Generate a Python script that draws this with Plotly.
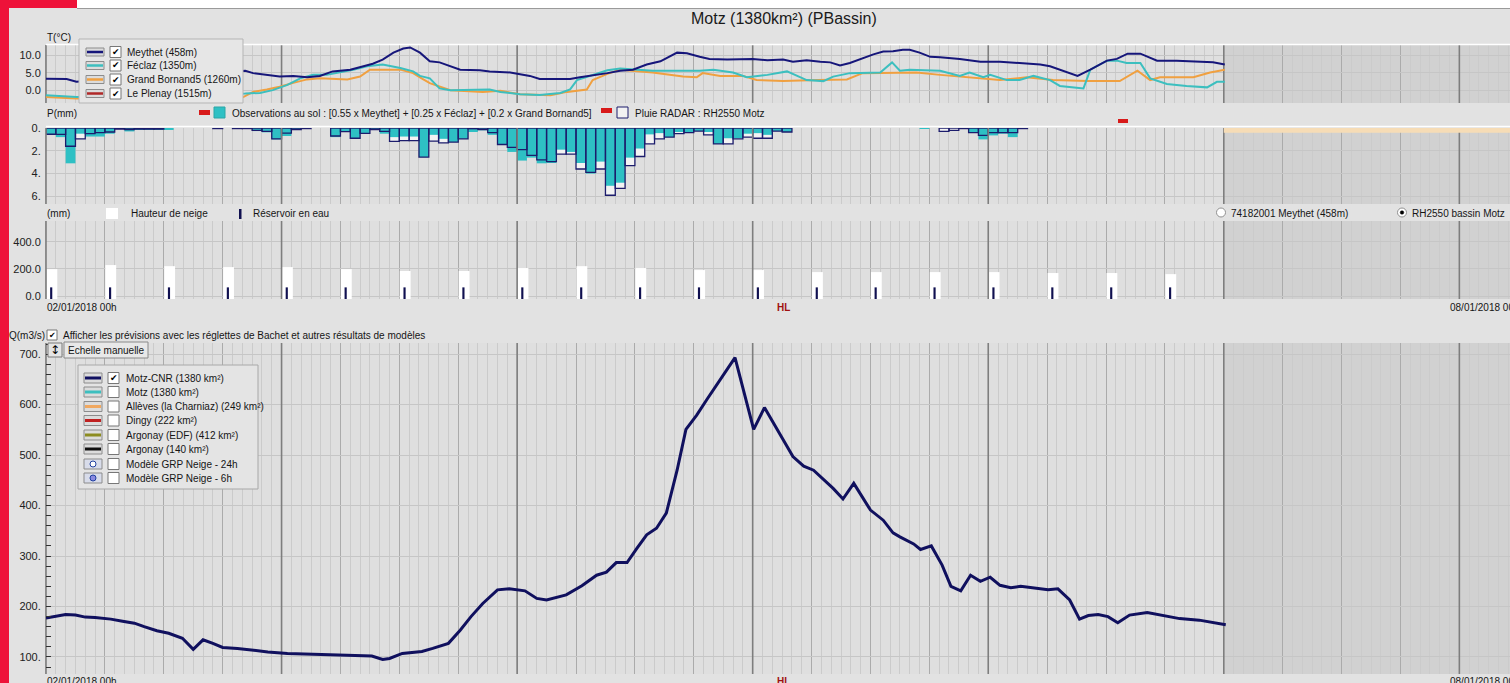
import plotly.graph_objects as go
from plotly.subplots import make_subplots

# ---------------- DATA (time in hours since 02/01/2018 00h) ----------------
T_MEYTHET_H = [0, 2.1, 3.1, 20.3, 21.1, 22.5, 23.8, 25.2, 26.6, 27.9, 29.2, 31, 32.3, 33.3, 34.3, 35.4, 36.4, 37.1,
               38.1, 39.1, 40.1, 41.2, 42.2, 44.2, 45.2, 47.3, 48.3, 49.3, 50.3, 53.4, 54.4, 55.4, 57.2, 58.5, 59.8,
               61.2, 62.6, 64.3, 65.3, 66.6, 67.6, 69.4, 71, 72, 73.5, 75.1, 76.1, 77.5, 78.9, 79.9, 80.9, 81.9,
               84.3, 85.3, 86.3, 87.3, 88, 89, 90.1, 91.1, 93.1, 95.2, 97.2, 99.2, 101.3, 102.3, 103.3, 105.1,
               106.4, 108.1, 109.1, 110.2, 111.5, 113.2, 115.2, 117.3, 118.9, 120.1]
T_MEYTHET = [3.3, 3.2, 2.4, 5.6, 4.9, 4.4, 3.9, 4.1, 3.7, 4.1, 5.4, 5.9, 6.9, 7.6, 8.8, 10.8, 12.0, 12.3,
             10.8, 8.3, 8.0, 6.9, 5.9, 5.7, 5.4, 5.1, 4.7, 4.1, 3.2, 3.2, 3.7, 4.1, 4.9, 5.6, 5.9,
             7.4, 8.3, 10.8, 10.6, 9.6, 9.0, 8.8, 8.8, 9.0, 8.6, 8.8, 8.2, 8.6, 8.2, 8.0, 7.1, 7.8,
             10.3, 11.1, 11.2, 11.6, 11.6, 10.8, 9.6, 9.5, 9.0, 8.2, 8.2, 7.8, 7.4, 6.9, 5.9, 4.1,
             5.9, 8.5, 9.0, 10.5, 10.5, 8.5, 8.5, 8.2, 8.0, 7.4]

T_FECLAZ_H = [0, 3.1, 20.3, 21.8, 23.1, 24.6, 25.9, 27.2, 28.6, 30, 31.3, 32.7, 34.3, 36.1, 37.4, 38.1, 39.1, 40.1,
              41.2, 45.2, 46.3, 48.3, 50.3, 52.4, 53.4, 54.1, 55.4, 57.2, 58.5, 59.8, 61.8, 66.6, 68, 70, 71.4,
              73.5, 75.5, 77.5, 79.2, 80.2, 81.9, 85, 86.2, 87, 88, 91.1, 93.1, 94.1, 95.5, 96.2, 97.9, 99.2,
              100.6, 102.3, 103.3, 105, 105.7, 106.4, 108.1, 109.1, 110.1, 111.5, 112.5, 114.2, 116.2, 118.3,
              119.3, 120.1]
T_FECLAZ = [-1.5, -2.0, -1.0, -0.8, 0, 1.5, 3.4, 4.4, 4.4, 5.1, 5.9, 6.9, 7.4, 6.4, 5.4, 4.1, 3.4, 0.5,
            0, 0.2, -0.5, -1.2, -1.4, -0.8, 0.2, 2.9, 4.1, 5.7, 6.2, 5.9, 5.6, 5.6, 5.9, 5.1, 3.7,
            4.4, 5.4, 2.9, 2.6, 3.9, 4.9, 5.1, 8.0, 5.6, 5.9, 5.6, 4.1, 5.1, 3.7, 4.4, 2.9, 2.9,
            4.1, 2.9, 1.2, 0.7, 0.5, 5.9, 8.5, 8.5, 7.8, 7.8, 3.4, 1.8, 1.2, 0.8,
            2.4, 2.4]

T_GRANDBORNAND_H = [0, 3.1, 20.1, 21.1, 22.5, 23.8, 25.2, 26.6, 27.9, 30.7, 32, 33, 36.1, 37.4, 38.4, 39.1, 41.2,
                    44.5, 46.3, 48.3, 51.4, 53.1, 55.1, 55.7, 57.2, 58.5, 61.8, 64.9, 66.3, 66.9, 68.7, 71, 72.4,
                    75.1, 78.6, 81.6, 83.2, 86.7, 88.7, 91.1, 94.9, 97.2, 99.9, 102.6, 106.1, 109.4, 111.2, 112.5,
                    113.5, 116.9, 118.6, 120.1]
T_GRANDBORNAND = [-2.0, -2.4, -2.0, -0.5, 0.2, 1.0, 2.1, 3.1, 3.4, 3.1, 3.9, 5.9, 5.9, 4.9, 3.2, 2.0, 0,
                  -0.5, -0.2, -1.2, -1.5, -0.5, 0.2, 2.9, 4.7, 5.9, 5.1, 3.9, 3.7, 4.9, 4.1, 4.1, 2.9,
                  2.6, 2.9, 3.1, 4.9, 5.1, 5.1, 4.4, 3.4, 2.9, 3.7, 2.9, 2.6, 2.6, 5.6, 2.9,
                  3.7, 3.7, 5.1, 5.9]

# hourly precipitation (mm), hour 0 .. 100
P_OBS = [0.6, 0.8, 3.1, 0.5, 0.75, 0.75, 0.5, 0.05, 0.3, 0.15, 0.1, 0.15, 0.1, 0, 0, 0, 0, 0, 0, 0,
         0, 0.27, 0.38, 1.0, 0.7, 0.15, 0, 0, 0, 0.8, 0.35, 0.9, 0.45, 0.15, 0.5, 0.8, 0.75, 0.75, 2.56, 0.6,
         0.95, 1.24, 0.95, 0.35, 0.2, 0.6, 1.45, 2.1, 2.86, 2.6, 3.1, 3.07, 1.9, 2.1, 3.07, 4.0, 2.95, 5.07, 4.8, 2.6,
         1.8, 0.56, 0.45, 0.8, 0.35, 0.35, 0.27, 0.35, 1.4, 0.9, 0.9, 0.5, 0.45, 0.6, 0.27, 0.35, 0, 0, 0, 0,
         0, 0, 0, 0, 0, 0, 0, 0, 0, 0.05, 0, 0, 0, 0, 0.4, 1.0, 0.65, 0.5, 0.8, 0, 0]
P_RADAR = [0.55, 0.56, 1.6, 0.95, 0.5, 0.4, 0.35, 0.1, 0.15, 0.1, 0.1, 0.1, 0, 0, 0, 0, 0, 0.05, 0, 0.05,
           0.05, 0.2, 0.3, 0.95, 0.45, 0.15, 0.05, 0, 0, 0.7, 0.32, 0.9, 0.47, 0.15, 0.3, 1.18, 1.1, 1.1, 2.56, 1.15,
           1.3, 1.24, 0.95, 0.06, 0.15, 0.4, 1.45, 1.7, 1.9, 2.4, 2.8, 2.95, 2.3, 2.3, 3.6, 3.9, 3.6, 5.9, 5.3, 3.3,
           2.5, 1.4, 0.95, 0.8, 0.5, 0.4, 0.27, 0.6, 1.4, 1.4, 0.95, 0.8, 0.9, 0.9, 0.27, 0.35, 0, 0, 0, 0,
           0, 0, 0, 0, 0, 0, 0, 0, 0, 0, 0, 0.3, 0.2, 0.05, 0.4, 0.65, 0.4, 0.4, 0.4, 0.05, 0]
P_HOURS = list(range(len(P_OBS)))

# snow (every 6 h)
SNOW_H = [0, 6, 12, 18, 24, 30, 36, 42, 48, 54, 60, 66, 72, 78, 84, 90, 96, 102, 108, 114]
SNOW_HEIGHT = [199, 229, 221, 214, 214, 199, 185, 185, 207, 221, 207, 192, 192, 177, 177, 177, 177, 170, 170, 162]
SNOW_WATER = [64, 64, 64, 64, 64, 64, 64, 64, 64, 64, 64, 64, 64, 64, 64, 64, 64, 64, 64, 64]

# discharge Motz-CNR (m3/s)
Q_H = [0, 1, 2, 3, 4, 5, 6.6, 7.8, 9, 10, 11.3, 12.5, 13.9, 15, 16, 17, 18, 19.5, 20.7, 22.6, 24.6, 26.5, 28.5,
       29.6, 31.2, 33.2, 34.3, 35, 36.3, 37.5, 38.3, 39.4, 41, 42.2, 43.3, 44.5, 46, 47.2, 48.8, 50, 51, 53,
       54.6, 56.1, 57.1, 58.1, 59.2, 60.2, 61.2, 62.2, 63.2, 64.3, 65.2, 66.3, 67.3, 70.2, 72.1, 73.2, 74.6,
       76.1, 77.2, 78.2, 80.2, 81.2, 82.3, 84, 85.3, 86.3, 87, 88.4, 89.1, 90.2, 91.3, 92.2, 93.2, 94.2, 95.2,
       96.2, 97.2, 98.3, 99.3, 102.1, 103.1, 104.3, 105.3, 106.2, 107.2, 108.2, 109.2, 110.4, 112.2, 114,
       115.5, 117.5, 120.2]
Q_MOTZ_CNR = [177, 181, 184, 183, 179, 178, 175, 171, 167, 160, 152, 147, 137, 115, 134, 127, 119, 117, 114, 110,
              107, 106, 105, 104, 103, 102, 95, 97, 107, 110, 111, 117, 127, 153, 180, 206, 233, 235, 231, 216,
              213, 223, 241, 262, 268, 287, 287, 315, 342, 355, 385, 470, 551, 579, 609, 693, 551, 594, 546,
              497, 478, 470, 434, 413, 444, 391, 371, 346, 338, 324, 313, 320, 282, 240, 231, 262, 250, 258,
              242, 237, 240, 233, 235, 213, 175, 182, 184, 180, 168, 183, 188, 181, 176, 173, 164]

# tick labels
T_TICKS, T_TICKTEXT = [0, 5, 10], ["0.0", "5.0", "10.0"]
P_TICKS, P_TICKTEXT = [0, 2, 4, 6], ["0.", "2.", "4.", "6."]
S_TICKS, S_TICKTEXT = [0, 200, 400], ["0.0", "200.0", "400.0"]
Q_TICKS = [100, 200, 300, 400, 500, 600, 700]
Q_TICKTEXT = ["100.", "200.", "300.", "400.", "500.", "600.", "700."]
DAY_LINES = [0, 24, 48, 72, 96, 120, 144]
FORECAST_START = 120
HL_HOUR = 75.1

T_LEGEND = [("Meythet (458m)", "#16167a"), ("Féclaz (1350m)", "#3cbfbf"),
            ("Grand Bornand5 (1260m)", "#f0a040"), ("Le Plenay (1515m)", "#b02828")]
Q_LEGEND = [("Motz-CNR (1380 km²)", "#101060", True), ("Motz (1380 km²)", "#3cbfbf", False),
            ("Allèves (la Charniaz) (249 km²)", "#f0a860", False), ("Dingy (222 km²)", "#c02020", False),
            ("Argonay (EDF) (412 km²)", "#8c8c20", False), ("Argonay (140 km²)", "#101010", False),
            ("Modèle GRP Neige - 24h", "circle_open", False), ("Modèle GRP Neige - 6h", "circle_full", False)]

assert len(T_MEYTHET_H) == len(T_MEYTHET)
assert len(T_FECLAZ_H) == len(T_FECLAZ)
assert len(T_GRANDBORNAND_H) == len(T_GRANDBORNAND)
assert len(P_OBS) == len(P_RADAR)
assert len(Q_H) == len(Q_MOTZ_CNR)

# ---------------- STYLE / GEOMETRY ----------------
W, H = 1510, 683
ML = 46
X_END = (W - ML) / 9.815
FONT = "Liberation Sans, Arial, sans-serif"
LBL = 10
NAVY = "#16167a"
TEAL = "#3cbfbf"
ORANGE = "#f0a040"
CYAN = "#2ec0c4"
BG = "#e2e2e2"
PLOT_BG = "#dfdfdf"
SHADE = "#d1d1d1"
SNOW_BASE = -22
RANGES = {1: [-3.7, 13.0], 2: [6.67, 0], 3: [SNOW_BASE, 555], 4: [66.3, 722]}


def px(x):
    return (x - ML) / (W - ML)


def py(y):
    return 1 - y / H


fig = make_subplots(rows=4, cols=1, shared_xaxes=True, vertical_spacing=0.02)

# day separators (drawn first so that data lies over them)
for r in range(1, 5):
    lo, hi = min(RANGES[r]), max(RANGES[r])
    xs, ys = [], []
    for d in DAY_LINES:
        xs += [d, d, None]
        ys += [lo, hi, None]
    fig.add_trace(go.Scatter(x=xs, y=ys, mode="lines", line=dict(color="#7e7e7e", width=1.6),
                             hoverinfo="skip"), row=r, col=1)

# temperature
fig.add_trace(go.Scatter(x=T_GRANDBORNAND_H, y=T_GRANDBORNAND, mode="lines",
                         line=dict(color=ORANGE, width=2)), row=1, col=1)
fig.add_trace(go.Scatter(x=T_FECLAZ_H, y=T_FECLAZ, mode="lines",
                         line=dict(color=TEAL, width=2)), row=1, col=1)
fig.add_trace(go.Scatter(x=T_MEYTHET_H, y=T_MEYTHET, mode="lines",
                         line=dict(color=NAVY, width=2)), row=1, col=1)

# precipitation
nz = lambda arr: [v if v > 0 else None for v in arr]
fig.add_trace(go.Bar(x=P_HOURS, y=nz(P_RADAR), width=1, offset=0,
                     marker=dict(color="#f3f3f3", line=dict(width=0))), row=2, col=1)
fig.add_trace(go.Bar(x=P_HOURS, y=nz(P_OBS), width=1, offset=0,
                     marker=dict(color=CYAN, line=dict(width=0))), row=2, col=1)
fig.add_trace(go.Bar(x=P_HOURS, y=nz(P_RADAR), width=1, offset=0,
                     marker=dict(color="rgba(0,0,0,0)", line=dict(color="#1c1c6c", width=1.3))), row=2, col=1)

# snow
fig.add_trace(go.Bar(x=SNOW_H, y=[v - SNOW_BASE for v in SNOW_HEIGHT], base=SNOW_BASE, width=1.1, offset=0.05,
                     marker=dict(color="#ffffff", line=dict(width=0))), row=3, col=1)
fig.add_trace(go.Bar(x=SNOW_H, y=[v - SNOW_BASE for v in SNOW_WATER], base=SNOW_BASE, width=0.22, offset=0.42,
                     marker=dict(color="#101050", line=dict(width=0))), row=3, col=1)

# discharge
fig.add_trace(go.Scatter(x=Q_H, y=Q_MOTZ_CNR, mode="lines",
                         line=dict(color="#10105e", width=3)), row=4, col=1)

tickfont = dict(family=FONT, size=11, color="#202020")
xcommon = dict(range=[0, X_END], showticklabels=False, tick0=0, dtick=6, showgrid=True, automargin=False,
               gridcolor="#ababab", gridwidth=1, zeroline=False, ticks="",
               minor=dict(dtick=1, tick0=0, showgrid=True, gridcolor="#cbcbcb", gridwidth=1))
for i in range(1, 5):
    fig.update_xaxes(xcommon, row=i, col=1)

ycommon = dict(showgrid=True, gridcolor="#c6c6c6", zeroline=False, tickmode="array", tickfont=tickfont,
               showline=True, linecolor="#8a8a8a", linewidth=1, ticklabelstandoff=2, automargin=False)
fig.update_yaxes(ycommon)
fig.update_layout(
    yaxis=dict(domain=[py(103), py(45)], range=RANGES[1], tickvals=T_TICKS, ticktext=T_TICKTEXT, ticks=""),
    yaxis2=dict(domain=[py(204), py(128)], range=RANGES[2], tickvals=P_TICKS, ticktext=P_TICKTEXT, ticks=""),
    yaxis3=dict(domain=[py(299), py(221)], range=RANGES[3], tickvals=S_TICKS, ticktext=S_TICKTEXT,
                ticks=""),
    yaxis4=dict(domain=[py(674), py(343)], range=RANGES[4], tickvals=Q_TICKS, ticktext=Q_TICKTEXT,
                ticks="inside", ticklen=5, tickcolor="#303030",
                minor=dict(dtick=20, tick0=0, ticks="inside", ticklen=5, tickcolor="#303030", showgrid=False)),
)

shapes = []
annots = []


def rect(x0, y0, x1, y1, fill, line=None, lw=1, layer="above"):
    shapes.append(dict(type="rect", xref="paper", yref="paper", x0=px(x0), x1=px(x1), y0=py(y0), y1=py(y1),
                       fillcolor=fill, line=dict(color=line or fill, width=lw if line else 0), layer=layer))


def seg(x0, y0, x1, y1, color, lw=1, layer="above"):
    shapes.append(dict(type="line", xref="paper", yref="paper", x0=px(x0), x1=px(x1), y0=py(y0), y1=py(y1),
                       line=dict(color=color, width=lw), layer=layer))


def circ(cx, cy, r, fill, line, lw=1):
    shapes.append(dict(type="circle", xref="paper", yref="paper", x0=px(cx - r), x1=px(cx + r),
                       y0=py(cy + r), y1=py(cy - r), fillcolor=fill, line=dict(color=line, width=lw),
                       layer="above"))


def txt(x, y, s, size=LBL, color="#151515", xanchor="left", family=FONT):
    annots.append(dict(x=px(x), y=py(y), xref="paper", yref="paper", text=s, showarrow=False,
                       xanchor=xanchor, yanchor="middle", font=dict(size=size, color=color, family=family),
                       borderpad=0))


# forecast shading per panel
for k in ["", "2", "3", "4"]:
    shapes.append(dict(type="rect", xref="x" + k, yref="y" + k + " domain", x0=FORECAST_START, x1=X_END,
                       y0=0, y1=1, fillcolor=SHADE, line=dict(width=0), layer="below"))
# forecast rain strip
shapes.append(dict(type="rect", xref="x2", yref="y2", x0=FORECAST_START, x1=X_END, y0=0, y1=0.42,
                   fillcolor="#f6dcb6", line=dict(width=0), layer="above"))

# frame
rect(0, 0, W, 8, "#ffffff")
rect(0, 0, 77, 8, "#ee1239")
rect(0, 0, 9, H, "#ee1239")
seg(77, 8.5, W, 8.5, "#9a9a9a", 1)
seg(46, 44.5, W, 44.5, "#ffffff", 1.5)
seg(46, 126.5, W, 126.5, "#ffffff", 1.5)

# title
txt(784, 19, "Motz (1380km²) (PBassin)", size=16, color="#1a1a1a", xanchor="center")

# temperature header + legend
txt(46, 38, "T(°C)")
rect(79, 39, 243, 103, "#e6e6e6", "#b5b5b5", 1)
for i, (lab, col) in enumerate(T_LEGEND):
    yy = [52, 65.5, 79.5, 93.5][i]
    rect(86, yy - 4, 104, yy + 4, "#dcdcdc", "#8c8c8c", 1)
    seg(87, yy, 103, yy, col, 2.5)
    rect(110, yy - 5.5, 121, yy + 5.5, "#ffffff", "#777777", 1)
    txt(115.5, yy, "✔", size=9, color="#000000", xanchor="center", family="DejaVu Sans")
    txt(126, yy, lab)

# precipitation header
txt(46, 113, "P(mm)")
rect(199, 110, 210, 115, "#d81a1a")
rect(214, 107, 225, 118, CYAN, "#2aa6a6", 1)
txt(231, 113, "Observations au sol : [0.55 x Meythet] + [0.25 x Féclaz] + [0.2 x Grand Bornand5]")
rect(601, 108, 612, 113, "#d81a1a")
rect(617, 107, 628, 118, "#f2f2f2", "#1c1c6c", 1)
txt(634, 113, "Pluie RADAR : RH2550 Motz")
rect(1118, 119, 1128, 123, "#d81a1a")

# snow header
txt(46, 214, "(mm)")
rect(106, 208, 118, 219, "#ffffff")
rect(239, 209, 241.5, 219, "#101050")
txt(130, 214, "Hauteur de neige")
txt(252, 214, "Réservoir en eau")
circ(1221, 212.5, 4.5, "#ffffff", "#909090", 1)
txt(1230, 213, "74182001 Meythet (458m)")
circ(1402, 212.5, 4.5, "#ffffff", "#909090", 1)
circ(1402, 212.5, 1.8, "#000000", "#000000", 0.5)
txt(1411, 213, "RH2550 bassin Motz")

# date labels
for yy in (307, 681):
    txt(46, yy, "02/01/2018 00h")
    txt(1449, yy, "08/01/2018 00h")
    annots.append(dict(x=HL_HOUR, y=py(yy), xref="x", yref="paper", text="<b>HL</b>", showarrow=False,
                       xanchor="center", yanchor="middle", font=dict(size=LBL, color="#a01010", family=FONT)))

# Q header
txt(8, 335, "Q(m3/s)")
rect(47, 330, 57, 340, "#ffffff", "#777777", 1)
txt(52, 335, "✔", size=8, color="#000000", xanchor="center", family="DejaVu Sans")
txt(62, 335, "Afficher les prévisions avec les réglettes de Bachet et autres résultats de modèles")
rect(48, 343, 62, 357, "#e4e4e4", "#7a7a7a", 1)
txt(55, 350, "↕", size=12, color="#000000", xanchor="center", family="DejaVu Sans")
rect(64, 342, 148, 358, "#e8e8e8", "#8a8a8a", 1)
txt(106, 350, "Echelle manuelle", xanchor="center")

# Q legend
rect(78, 365, 258, 489, "#e4e4e4", "#a8a8a8", 1)
for i, (lab, col, chk) in enumerate(Q_LEGEND):
    yy = [378, 392, 406.5, 420.5, 435, 449, 464, 478][i]
    if col.startswith("circle"):
        rect(84, yy - 5, 102, yy + 5, "#d8dcea", "#8c8c8c", 1)
        circ(93, yy, 3, "#ffffff" if col == "circle_open" else "#8a8ae0", "#2040a0", 1)
    else:
        rect(84, yy - 5, 102, yy + 5, "#dcdcdc", "#8c8c8c", 1)
        seg(85, yy, 101, yy, col, 3)
    rect(108, yy - 5.5, 119, yy + 5.5, "#ffffff", "#777777", 1)
    if chk:
        txt(113.5, yy, "✔", size=9, color="#000000", xanchor="center", family="DejaVu Sans")
    txt(125, yy, lab)

fig.update_layout(
    width=W, height=H, margin=dict(l=ML, r=0, t=0, b=0, autoexpand=False),
    paper_bgcolor=BG, plot_bgcolor=PLOT_BG, showlegend=False, barmode="overlay",
    shapes=shapes, annotations=annots, font=dict(family=FONT, size=LBL, color="#151515"),
)

fig.write_html("out.html", config={"displayModeBar": False},
               post_script="document.body.style.margin='0';document.body.style.padding='0';"
                           "document.body.style.overflow='hidden';document.body.style.background='#e2e2e2';")
